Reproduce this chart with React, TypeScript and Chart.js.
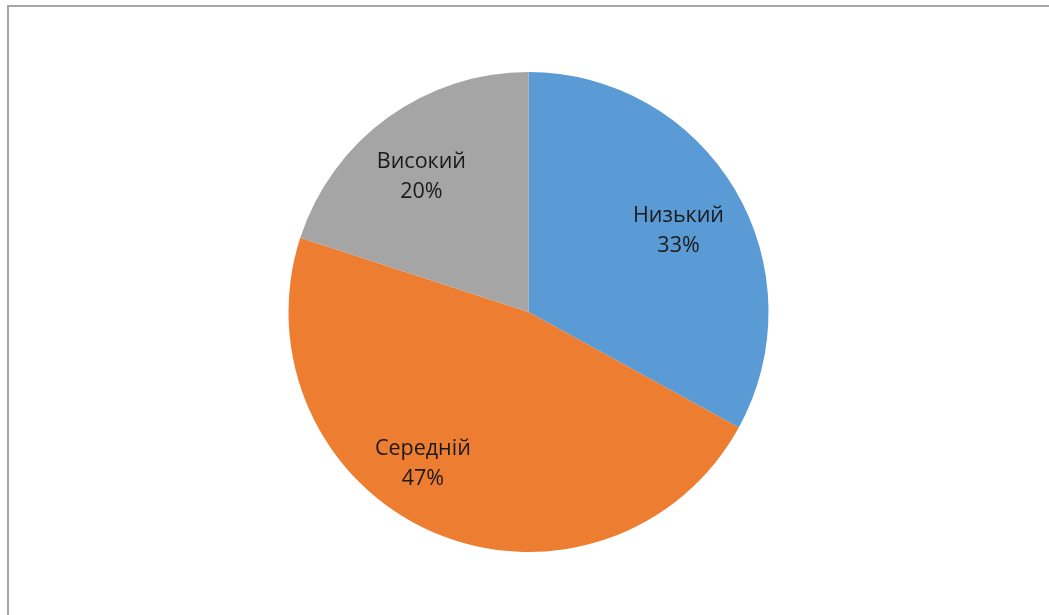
import React, { useEffect, useRef } from "react";
import { Chart, registerables } from "chart.js";

Chart.register(...registerables);

const categories = ["Низький", "Середній", "Високий"];
const values = [33, 47, 20];
const colors = ["#5B9BD5", "#ED7D31", "#A5A5A5"];

// label placement tweaks (fraction of radius, angle shift in radians)
const labelRadiusFrac = [0.71, 0.77, 0.72];
const labelAngleShift = [0.04, 0.2, -0.04];

const labelPlugin = {
  id: "pieLabels",
  afterDatasetsDraw(chart: any) {
    const ctx = chart.ctx;
    const meta = chart.getDatasetMeta(0);
    const total = values.reduce((a, b) => a + b, 0);
    ctx.save();
    ctx.font = '21.5px "Open Sans"';
    ctx.fillStyle = "#1a1a1a";
    ctx.textAlign = "center";
    ctx.textBaseline = "middle";
    meta.data.forEach((arc: any, i: number) => {
      const mid = (arc.startAngle + arc.endAngle) / 2 + labelAngleShift[i];
      const r = arc.outerRadius * labelRadiusFrac[i];
      const x = arc.x + Math.cos(mid) * r;
      const y = arc.y + Math.sin(mid) * r;
      const pct = Math.round((values[i] / total) * 100) + "%";
      ctx.fillText(categories[i], x, y - 15);
      ctx.fillText(pct, x, y + 15);
    });
    ctx.restore();
  },
};

const framePlugin = {
  id: "frame",
  beforeDraw(chart: any) {
    const ctx = chart.ctx;
    ctx.save();
    ctx.fillStyle = "#ffffff";
    ctx.fillRect(0, 0, chart.width, chart.height);
    ctx.strokeStyle = "#a6a6a6";
    ctx.lineWidth = 2;
    ctx.beginPath();
    ctx.moveTo(8, chart.height + 2);
    ctx.lineTo(8, 6);
    ctx.lineTo(chart.width + 2, 6);
    ctx.stroke();
    ctx.restore();
  },
};

export default function App() {
  const ref = useRef<HTMLCanvasElement | null>(null);
  useEffect(() => {
    document.body.style.margin = "0";
    const chart = new Chart(ref.current!, {
      type: "pie",
      data: {
        labels: categories,
        datasets: [
          {
            data: values,
            backgroundColor: colors,
            borderWidth: 0,
          },
        ],
      },
      options: {
        animation: false,
        responsive: false,
        layout: { padding: { left: 288, right: 280, top: 72, bottom: 63 } },
        plugins: {
          legend: { display: false },
          tooltip: { enabled: false },
        },
      },
      plugins: [framePlugin, labelPlugin],
    });
    return () => chart.destroy();
  }, []);
  return <canvas ref={ref} width={1049} height={615} style={{ display: "block" }} />;
}
